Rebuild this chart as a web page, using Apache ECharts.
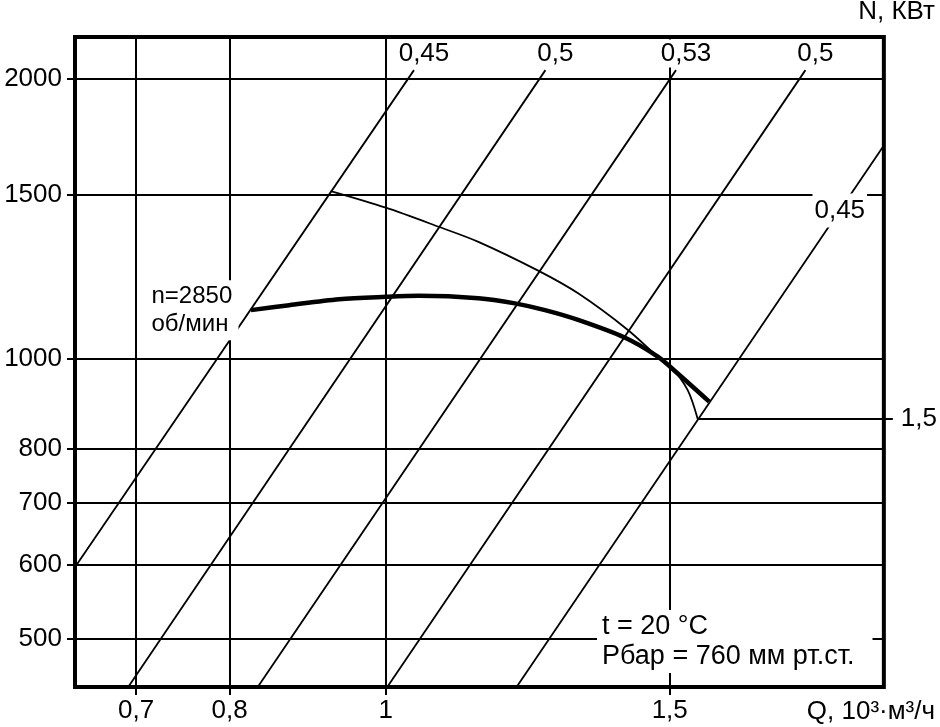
<!DOCTYPE html>
<html><head><meta charset="utf-8">
<script src="https://cdn.jsdelivr.net/npm/echarts@6/dist/echarts.min.js"></script>
<style>html,body{margin:0;padding:0;background:#fff}#c{width:940px;height:727px}</style>
</head><body><div id="c"></div>
<script>
// Axes (log–log)
const xTicks = [0.7, 0.8, 1, 1.5];
const yTicks = [500, 600, 700, 800, 1000, 1500, 2000];
const xRange = [0.6415, 2.0366];
const yRange = [443.2, 2220];

// Power curve N(Q), n = 2850 rpm (thick)
const powerCurve = [[0.8248,1128],[0.8711,1142],[0.9354,1159],[1.0,1166],[1.048,1169],[1.1413,1162],[1.2025,1147],[1.2552,1128],[1.316,1101],[1.4064,1054],[1.4746,1005],[1.5172,964],[1.587,899]];
// Thin curve ending at reference level "1,5"
const thinCurve = [[0.9243,1515],[1.0,1454],[1.0783,1387],[1.1413,1336],[1.243,1244],[1.316,1176],[1.413,1074],[1.4782,1001],[1.503,980],[1.539,925],[1.5612,861]];
const refLevel = 861;
const refLabel = '1,5';

// Efficiency lines (endpoints)
const etaNames = ['0,45', '0,5', '0,53', '0,5', '0,45'];
const etaLines = [
  [[0.643, 600], [1.041, 2045]],
  [[0.692, 443], [1.256, 2045]],
  [[0.8326, 443], [1.5135, 2045]],
  [[1.0018, 443], [1.8208, 2045]],
  [[1.205, 443], [2.0366, 1696]]
];

const speedLines = ['n=2850', 'об/мин'];
const infoText = 't = 20 °C\nРбар = 760 мм рт.ст.';
const yName = 'N, КВт';
const xName = 'Q, 10³·м³/ч';

const FONT = '"Liberation Sans", Arial, sans-serif';
const FS = 26;
const fmt = v => String(+(+v).toFixed(2)).replace('.', ',');

function logInterp(a, b, t) {
  return [Math.pow(10, Math.log10(a[0]) + t * (Math.log10(b[0]) - Math.log10(a[0]))),
          Math.pow(10, Math.log10(a[1]) + t * (Math.log10(b[1]) - Math.log10(a[1])))];
}

const etaSeries = etaLines.map((ln, i) => {
  const last = i === etaLines.length - 1;
  const anchor = last ? logInterp(ln[0], ln[1], 0.88) : ln[1];
  return {
    type: 'line', data: ln, symbol: 'none', silent: true, z: 3,
    lineStyle: { color: '#000', width: 1.8 },
    markPoint: {
      symbol: 'circle', symbolSize: 1, itemStyle: { color: 'rgba(0,0,0,0)' },
      data: [{ coord: anchor }],
      label: last ? {
        show: true, position: 'inside', formatter: etaNames[i], color: '#000',
        fontSize: FS, fontFamily: FONT, backgroundColor: '#fff', padding: [4, 2]
      } : {
        show: true, position: 'top', distance: 2, offset: [10, 0], formatter: etaNames[i], color: '#000',
        fontSize: FS, fontFamily: FONT, backgroundColor: '#fff', padding: [1, 2]
      }
    }
  };
});

const option = {
  backgroundColor: '#fff',
  animation: false,
  grid: { left: 75, right: 53, top: 37, bottom: 40, show: true, borderColor: '#000', borderWidth: 4, backgroundColor: 'transparent' },
  title: {
    text: infoText, left: 597, top: 610, padding: [2, 18, 1, 5], backgroundColor: '#fff',
    textStyle: { fontSize: 27, fontWeight: 'normal', color: '#000', lineHeight: 30, fontFamily: FONT }
  },
  xAxis: {
    type: 'log', logBase: 10, min: xRange[0], max: xRange[1],
    axisLine: { show: false },
    axisTick: { show: true, customValues: xTicks, length: 8, lineStyle: { color: '#000', width: 2 } },
    axisLabel: { customValues: xTicks, formatter: fmt, margin: 11, fontSize: FS, color: '#000', fontFamily: FONT },
    splitLine: { show: true, lineStyle: { color: '#000', width: 2 } }
  },
  yAxis: [{
    type: 'log', logBase: 10, min: yRange[0], max: yRange[1],
    axisLine: { show: false },
    axisTick: { show: true, customValues: yTicks, length: 8, lineStyle: { color: '#000', width: 2 } },
    axisLabel: { customValues: yTicks, formatter: v => String(Math.round(v)), margin: 13, fontSize: FS, color: '#000', fontFamily: FONT },
    splitLine: { show: true, lineStyle: { color: '#000', width: 2 } }
  }, {
    type: 'log', logBase: 10, min: yRange[0], max: yRange[1], position: 'right',
    axisLine: { show: false },
    axisTick: { show: true, customValues: [refLevel], length: 9, lineStyle: { color: '#000', width: 2 } },
    axisLabel: { customValues: [refLevel], formatter: () => refLabel, margin: 17, fontSize: FS, color: '#000', fontFamily: FONT },
    splitLine: { show: false }
  }],
  graphic: [
    { type: 'text', x: 935, y: 12, style: { text: yName, align: 'right', verticalAlign: 'middle', font: FS + 'px ' + FONT, fill: '#000' } },
    { type: 'text', x: 935, y: 712, style: { text: xName, align: 'right', verticalAlign: 'middle', font: FS + 'px ' + FONT, fill: '#000' } }
  ],
  series: [
    ...etaSeries,
    {
      type: 'line', data: thinCurve, symbol: 'none', smooth: 0.3, silent: true, z: 3,
      lineStyle: { color: '#000', width: 1.8 }
    },
    {
      type: 'line', data: [[thinCurve[thinCurve.length - 1][0], refLevel], [xRange[1], refLevel]], symbol: 'none', silent: true, z: 3,
      lineStyle: { color: '#000', width: 2 }
    },
    {
      type: 'line', data: powerCurve, symbol: 'none', smooth: 0.3, silent: true, z: 4,
      lineStyle: { color: '#000', width: 4.5 },
      markPoint: {
        symbol: 'circle', symbolSize: 1, itemStyle: { color: 'rgba(0,0,0,0)' },
        data: [{ coord: powerCurve[0] }],
        label: {
          show: true, position: 'left', distance: 12,
          formatter: speedLines.map(s => '{a|' + s + '}').join('\n'),
          backgroundColor: '#fff', padding: [2, 6, 2, 4],
          rich: { a: { width: 81, align: 'left', fontSize: 24, fontFamily: FONT, color: '#000', lineHeight: 28 } }
        }
      }
    }
  ]
};

const chart = echarts.init(document.getElementById('c'), null, { renderer: 'canvas' });
chart.setOption(option);
</script>
</body></html>
